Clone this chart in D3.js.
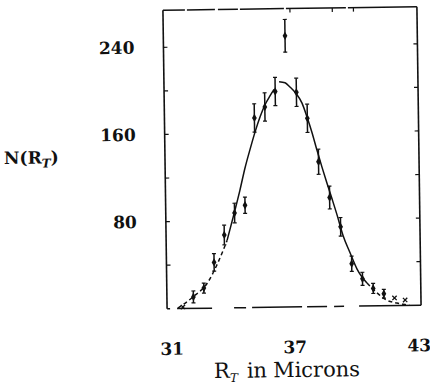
<!DOCTYPE html>
<html>
<head>
<meta charset="utf-8">
<script src="https://cdn.jsdelivr.net/npm/d3@7"></script>
<style>
  html, body { margin: 0; padding: 0; background: #fff; }
  svg { display: block; }
</style>
</head>
<body>
<script>
// ---- data ----
const binCenters = [31.75, 32.25, 32.75, 33.25, 33.75, 34.25, 34.75, 35.25, 35.75, 36.25, 36.75,
                    37.25, 37.75, 38.25, 38.75, 39.25, 39.75, 40.25, 40.75, 41.25, 41.75, 42.25];
const counts     = [1.4, 10.5, 18.5, 42, 67, 87, 94, 174, 184, 198, 249,
                    197, 173, 133, 100, 73, 39, 25, 16, 11, 7, 5];
const errors     = [0, 5.5, 4.6, 8, 9, 9, 7.5, 13, 13, 13, 15,
                    13, 13, 11.5, 10.5, 8.5, 7, 6, 4.6, 4, 0, 0];
const markerKind = ["x", "d", "d", "d", "d", "d", "d", "d", "d", "d", "d",
                    "d", "d", "d", "d", "d", "d", "d", "d", "d", "x", "x"];

// fitted curve (left and right branches)
const fitLeftX  = [31.51, 32.23, 32.95, 33.44, 33.88, 34.22, 34.52, 34.77, 35.02, 35.27, 35.52, 35.76, 36.0, 36.2];
const fitLeftY  = [0.5, 10.5, 24, 42, 62, 86, 108, 128, 145, 161, 175, 186, 194, 200];
const fitRightX = [36.44, 36.72, 36.95, 37.23, 37.51, 37.74, 37.96, 38.18, 38.41, 38.64, 38.86, 39.09,
                   39.36, 39.68, 40.0, 40.46, 40.92, 41.39, 41.86, 42.24, 42.45];
const fitRightY = [207, 206, 202, 196, 187, 174, 160, 144, 128, 113, 99, 84,
                   65, 49, 34, 21, 12, 5, 2.3, 0.8, 0];
const leftDashEnd = 4;     // left branch dashed up to this index
const rightDashStart = 15; // right branch dashed from this index

const xTickLabels = [31, 37, 43];
const yTickLabels = [80, 160, 240];
const yTicks = [40, 80, 120, 160, 200, 240];
const topTicks = [37, 39, 40];

// ---- layout ----
const W = 430, H = 389;
const svg = d3.select("body").append("svg").attr("width", W).attr("height", H);
const g = svg.append("g").attr("transform", "rotate(-0.8, 292, 158)");

const x = d3.scaleLinear().domain([31, 43]).range([165, 419]);
const y = d3.scaleLinear().domain([0, 274]).range([307, 8.5]);
const ink = "#111";
const serif = "'DejaVu Serif', 'Liberation Serif', serif";

// frame
const x0 = x(31), x1 = x(43), yb = y(0), yt = y(274);
g.append("line").attr("x1", x0).attr("x2", x0).attr("y1", yt).attr("y2", yb)
  .attr("stroke", ink).attr("stroke-width", 1.6);
g.append("line").attr("x1", x1).attr("x2", x1).attr("y1", yt).attr("y2", yb)
  .attr("stroke", ink).attr("stroke-width", 1.6);
g.append("line").attr("x1", x0).attr("x2", x1).attr("y1", yt).attr("y2", yt)
  .attr("stroke", ink).attr("stroke-width", 1.5)
  .attr("stroke-dasharray", "22 2 28 3 20 2 44 2 60 2 90");
g.append("line").attr("x1", x0).attr("x2", x1).attr("y1", yb).attr("y2", yb)
  .attr("stroke", ink).attr("stroke-width", 1.5)
  .attr("stroke-dasharray", "3 7 35 22 12 6 50 5 20 7 10 15 70");

// inward ticks
const tickL = 4;
g.selectAll(".lt").data(yTicks).join("line")
  .attr("x1", x0).attr("x2", x0 + tickL).attr("y1", d => y(d)).attr("y2", d => y(d))
  .attr("stroke", ink).attr("stroke-width", 1.2);
g.selectAll(".rt").data(yTicks).join("line")
  .attr("x1", x1).attr("x2", x1 - tickL).attr("y1", d => y(d)).attr("y2", d => y(d))
  .attr("stroke", ink).attr("stroke-width", 1.2);
g.selectAll(".tt").data(topTicks).join("line")
  .attr("x1", d => x(d)).attr("x2", d => x(d)).attr("y1", yt).attr("y2", yt + tickL)
  .attr("stroke", ink).attr("stroke-width", 1.2);

// axes labels via d3 axes (no tick lines / domain)
const xAxis = d3.axisBottom(x).tickValues(xTickLabels).tickSize(0).tickPadding(0).tickFormat(d3.format("d"));
const gx = g.append("g").attr("transform", `translate(0, ${yb + 34})`).call(xAxis);
gx.select(".domain").remove();
gx.selectAll("text").attr("font-family", serif).attr("font-weight", "bold")
  .attr("font-size", 17).attr("fill", ink).attr("dy", "0.71em");
gx.selectAll(".tick").filter(d => d === 31).select("text").attr("dx", 4);
gx.selectAll(".tick").filter(d => d === 43).select("text").attr("dx", -3);

const yAxis = d3.axisLeft(y).tickValues(yTickLabels).tickSize(0).tickPadding(0).tickFormat(d3.format("d"));
const gy = g.append("g").attr("transform", `translate(136, 0)`).call(yAxis);
gy.select(".domain").remove();
gy.selectAll("text").attr("font-family", serif).attr("font-weight", "bold")
  .attr("font-size", 17).attr("fill", ink);

// axis titles
const yTitle = g.append("text").attr("x", 4).attr("y", 160)
  .attr("font-family", serif).attr("font-weight", "bold")
  .attr("font-size", 17).attr("fill", ink);
yTitle.append("tspan").text("N(R");
yTitle.append("tspan").attr("font-size", 12).attr("font-style", "italic").attr("dy", 4).text("T");
yTitle.append("tspan").attr("dy", -4).text(")");

const xTitle = g.append("text").attr("x", 211).attr("y", 377)
  .attr("font-family", serif).attr("font-size", 21).attr("fill", ink);
xTitle.append("tspan").attr("font-family", serif).text("R");
xTitle.append("tspan").attr("font-family", serif).attr("font-size", 12).attr("font-style", "italic").attr("dy", 4).text("T");
xTitle.append("tspan").attr("font-family", serif).attr("dy", -4).attr("dx", 9).text("in");
xTitle.append("tspan").attr("font-family", serif).attr("dx", 6).text("Microns");

// fitted curve
const line = d3.line().x(d => x(d[0])).y(d => y(d[1])).curve(d3.curveMonotoneX);
const leftPts = fitLeftX.map((v, i) => [v, fitLeftY[i]]);
const rightPts = fitRightX.map((v, i) => [v, fitRightY[i]]);
const segs = [
  { pts: leftPts.slice(0, leftDashEnd + 1), dash: "4 3" },
  { pts: leftPts.slice(leftDashEnd), dash: null },
  { pts: rightPts.slice(0, rightDashStart + 1), dash: null },
  { pts: rightPts.slice(rightDashStart), dash: "4 3" }
];
g.selectAll(".fit").data(segs).join("path")
  .attr("d", d => line(d.pts)).attr("fill", "none").attr("stroke", ink)
  .attr("stroke-width", 1.5).attr("stroke-dasharray", d => d.dash);

// data points with error bars
const pts = binCenters.map((v, i) => ({ x: v, n: counts[i], e: errors[i], k: markerKind[i] }));
const pg = g.selectAll(".pt").data(pts).join("g");
pg.filter(d => d.e > 0).append("line")
  .attr("x1", d => x(d.x)).attr("x2", d => x(d.x))
  .attr("y1", d => y(d.n + d.e)).attr("y2", d => y(d.n - d.e))
  .attr("stroke", ink).attr("stroke-width", 1.5);
pg.filter(d => d.e > 0).append("line")
  .attr("x1", d => x(d.x) - 2).attr("x2", d => x(d.x) + 2)
  .attr("y1", d => y(d.n + d.e)).attr("y2", d => y(d.n + d.e))
  .attr("stroke", ink).attr("stroke-width", 1.2);
pg.filter(d => d.e > 0).append("line")
  .attr("x1", d => x(d.x) - 2).attr("x2", d => x(d.x) + 2)
  .attr("y1", d => y(d.n - d.e)).attr("y2", d => y(d.n - d.e))
  .attr("stroke", ink).attr("stroke-width", 1.2);
pg.filter(d => d.k === "d").append("path")
  .attr("transform", d => `translate(${x(d.x)},${y(d.n)})`)
  .attr("d", d3.symbol(d3.symbolDiamond, 20)).attr("fill", ink);
pg.filter(d => d.k === "x").append("path")
  .attr("transform", d => `translate(${x(d.x)},${y(d.n)})`)
  .attr("d", d3.symbol(d3.symbolX, 14)).attr("fill", "none").attr("stroke", ink).attr("stroke-width", 1.3);
</script>
</body>
</html>
